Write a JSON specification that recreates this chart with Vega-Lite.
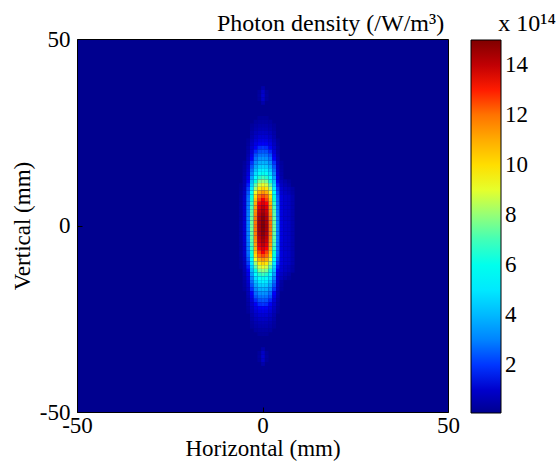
{
  "$schema": "https://vega.github.io/schema/vega-lite/v6.json",
  "width": 371,
  "height": 373,
  "autosize": {"type": "none"},
  "padding": {"left": 77, "top": 39, "right": 111, "bottom": 56},
  "background": "white",
  "config": {
    "view": {"stroke": "black", "strokeWidth": 1, "fill": "#00008F"},
    "font": "Liberation Serif"
  },
  "title": {
    "text": "Photon density (/W/m³)\u00a0\u00a0\u00a0\u00a0\u00a0\u00a0\u00a0\u00a0\u00a0x 10¹⁴",
    "anchor": "start",
    "frame": "group",
    "dx": 140,
    "offset": -27,
    "baseline": "alphabetic",
    "font": "Liberation Serif",
    "fontSize": 24,
    "fontWeight": "normal",
    "color": "black"
  },
  "data": {
    "values": [
      {"x":-1,"y":29,"v":0.29},{"x":0,"y":29,"v":0.3},{"x":1,"y":29,"v":0.29},
      {"x":-2,"y":28,"v":0.34},{"x":-1,"y":28,"v":0.4},{"x":0,"y":28,"v":0.42},{"x":1,"y":28,"v":0.4},{"x":2,"y":28,"v":0.34},
      {"x":-3,"y":27,"v":0.28},{"x":-2,"y":27,"v":0.45},{"x":-1,"y":27,"v":0.54},{"x":0,"y":27,"v":0.56},{"x":1,"y":27,"v":0.54},{"x":2,"y":27,"v":0.45},{"x":3,"y":27,"v":0.28},
      {"x":-3,"y":26,"v":0.35},{"x":-2,"y":26,"v":0.56},{"x":-1,"y":26,"v":0.67},{"x":0,"y":26,"v":0.7},{"x":1,"y":26,"v":0.67},{"x":2,"y":26,"v":0.56},{"x":3,"y":26,"v":0.35},
      {"x":-3,"y":25,"v":0.45},{"x":-2,"y":25,"v":0.72},{"x":-1,"y":25,"v":0.86},{"x":0,"y":25,"v":0.9},{"x":1,"y":25,"v":0.86},{"x":2,"y":25,"v":0.72},{"x":3,"y":25,"v":0.45},
      {"x":-3,"y":24,"v":0.55},{"x":-2,"y":24,"v":0.88},{"x":-1,"y":24,"v":1.06},{"x":0,"y":24,"v":1.1},{"x":1,"y":24,"v":1.06},{"x":2,"y":24,"v":0.88},{"x":3,"y":24,"v":0.55},
      {"x":-4,"y":23,"v":0.27},{"x":-3,"y":23,"v":0.68},{"x":-2,"y":23,"v":1.08},{"x":-1,"y":23,"v":1.3},{"x":0,"y":23,"v":1.35},{"x":1,"y":23,"v":1.3},{"x":2,"y":23,"v":1.08},{"x":3,"y":23,"v":0.68},{"x":4,"y":23,"v":0.27},
      {"x":-4,"y":22,"v":0.33},{"x":-3,"y":22,"v":0.83},{"x":-2,"y":22,"v":1.32},{"x":-1,"y":22,"v":1.58},{"x":0,"y":22,"v":1.65},{"x":1,"y":22,"v":1.58},{"x":2,"y":22,"v":1.32},{"x":3,"y":22,"v":0.83},{"x":4,"y":22,"v":0.33},
      {"x":-4,"y":21,"v":0.4},{"x":-3,"y":21,"v":0.99},{"x":-2,"y":21,"v":1.58},{"x":-1,"y":21,"v":1.9},{"x":0,"y":21,"v":1.98},{"x":1,"y":21,"v":1.9},{"x":2,"y":21,"v":1.58},{"x":3,"y":21,"v":0.99},{"x":4,"y":21,"v":0.4},
      {"x":-4,"y":20,"v":0.47},{"x":-3,"y":20,"v":1.17},{"x":-2,"y":20,"v":1.86},{"x":-1,"y":20,"v":2.24},{"x":0,"y":20,"v":2.33},{"x":1,"y":20,"v":2.24},{"x":2,"y":20,"v":1.86},{"x":3,"y":20,"v":1.17},{"x":4,"y":20,"v":0.47},
      {"x":-4,"y":19,"v":0.56},{"x":-3,"y":19,"v":1.4},{"x":-2,"y":19,"v":2.24},{"x":-1,"y":19,"v":2.69},{"x":0,"y":19,"v":2.8},{"x":1,"y":19,"v":2.69},{"x":2,"y":19,"v":2.24},{"x":3,"y":19,"v":1.4},{"x":4,"y":19,"v":0.56},
      {"x":-4,"y":18,"v":0.66},{"x":-3,"y":18,"v":1.65},{"x":-2,"y":18,"v":2.64},{"x":-1,"y":18,"v":3.17},{"x":0,"y":18,"v":3.3},{"x":1,"y":18,"v":3.17},{"x":2,"y":18,"v":2.64},{"x":3,"y":18,"v":1.65},{"x":4,"y":18,"v":0.66},
      {"x":-5,"y":17,"v":0.29},{"x":-4,"y":17,"v":0.78},{"x":-3,"y":17,"v":1.95},{"x":-2,"y":17,"v":3.12},{"x":-1,"y":17,"v":3.74},{"x":0,"y":17,"v":3.9},{"x":1,"y":17,"v":3.74},{"x":2,"y":17,"v":3.12},{"x":3,"y":17,"v":1.95},{"x":4,"y":17,"v":0.78},{"x":5,"y":17,"v":0.29},
      {"x":-5,"y":16,"v":0.34},{"x":-4,"y":16,"v":0.9},{"x":-3,"y":16,"v":2.25},{"x":-2,"y":16,"v":3.6},{"x":-1,"y":16,"v":4.32},{"x":0,"y":16,"v":4.5},{"x":1,"y":16,"v":4.32},{"x":2,"y":16,"v":3.6},{"x":3,"y":16,"v":2.25},{"x":4,"y":16,"v":0.9},{"x":5,"y":16,"v":0.34},
      {"x":-5,"y":15,"v":0.39},{"x":-4,"y":15,"v":1.05},{"x":-3,"y":15,"v":2.63},{"x":-2,"y":15,"v":4.2},{"x":-1,"y":15,"v":5.04},{"x":0,"y":15,"v":5.25},{"x":1,"y":15,"v":5.04},{"x":2,"y":15,"v":4.2},{"x":3,"y":15,"v":2.63},{"x":4,"y":15,"v":1.05},{"x":5,"y":15,"v":0.39},
      {"x":-5,"y":14,"v":0.45},{"x":-4,"y":14,"v":1.2},{"x":-3,"y":14,"v":3.0},{"x":-2,"y":14,"v":4.8},{"x":-1,"y":14,"v":5.76},{"x":0,"y":14,"v":6.0},{"x":1,"y":14,"v":5.76},{"x":2,"y":14,"v":4.8},{"x":3,"y":14,"v":3.0},{"x":4,"y":14,"v":1.2},{"x":5,"y":14,"v":0.45},
      {"x":-5,"y":13,"v":0.52},{"x":-4,"y":13,"v":1.4},{"x":-3,"y":13,"v":3.49},{"x":-2,"y":13,"v":5.58},{"x":-1,"y":13,"v":6.7},{"x":0,"y":13,"v":6.98},{"x":1,"y":13,"v":6.7},{"x":2,"y":13,"v":5.58},{"x":3,"y":13,"v":3.49},{"x":4,"y":13,"v":1.4},{"x":5,"y":13,"v":0.52},
      {"x":-5,"y":12,"v":0.6},{"x":-4,"y":12,"v":1.59},{"x":-3,"y":12,"v":3.98},{"x":-2,"y":12,"v":6.36},{"x":-1,"y":12,"v":7.63},{"x":0,"y":12,"v":7.95},{"x":1,"y":12,"v":7.63},{"x":2,"y":12,"v":6.36},{"x":3,"y":12,"v":3.98},{"x":4,"y":12,"v":1.59},{"x":5,"y":12,"v":0.75},{"x":6,"y":12,"v":0.5},{"x":7,"y":12,"v":0.3},
      {"x":-6,"y":11,"v":0.25},{"x":-5,"y":11,"v":0.68},{"x":-4,"y":11,"v":1.82},{"x":-3,"y":11,"v":4.54},{"x":-2,"y":11,"v":7.26},{"x":-1,"y":11,"v":8.72},{"x":0,"y":11,"v":9.08},{"x":1,"y":11,"v":8.72},{"x":2,"y":11,"v":7.26},{"x":3,"y":11,"v":4.54},{"x":4,"y":11,"v":1.82},{"x":5,"y":11,"v":0.9},{"x":6,"y":11,"v":0.65},{"x":7,"y":11,"v":0.45},
      {"x":-6,"y":10,"v":0.29},{"x":-5,"y":10,"v":0.77},{"x":-4,"y":10,"v":2.04},{"x":-3,"y":10,"v":5.1},{"x":-2,"y":10,"v":8.16},{"x":-1,"y":10,"v":9.79},{"x":0,"y":10,"v":10.2},{"x":1,"y":10,"v":9.79},{"x":2,"y":10,"v":8.16},{"x":3,"y":10,"v":5.1},{"x":4,"y":10,"v":2.04},{"x":5,"y":10,"v":1.1},{"x":6,"y":10,"v":0.85},{"x":7,"y":10,"v":0.7},{"x":8,"y":10,"v":0.4},
      {"x":-6,"y":9,"v":0.32},{"x":-5,"y":9,"v":0.86},{"x":-4,"y":9,"v":2.28},{"x":-3,"y":9,"v":5.7},{"x":-2,"y":9,"v":9.12},{"x":-1,"y":9,"v":10.94},{"x":0,"y":9,"v":11.4},{"x":1,"y":9,"v":10.94},{"x":2,"y":9,"v":9.12},{"x":3,"y":9,"v":5.7},{"x":4,"y":9,"v":2.28},{"x":5,"y":9,"v":1.1},{"x":6,"y":9,"v":0.85},{"x":7,"y":9,"v":0.7},{"x":8,"y":9,"v":0.4},
      {"x":-6,"y":8,"v":0.35},{"x":-5,"y":8,"v":0.95},{"x":-4,"y":8,"v":2.52},{"x":-3,"y":8,"v":6.3},{"x":-2,"y":8,"v":10.08},{"x":-1,"y":8,"v":12.1},{"x":0,"y":8,"v":12.6},{"x":1,"y":8,"v":12.1},{"x":2,"y":8,"v":10.08},{"x":3,"y":8,"v":6.3},{"x":4,"y":8,"v":2.52},{"x":5,"y":8,"v":1.25},{"x":6,"y":8,"v":1.0},{"x":7,"y":8,"v":0.9},{"x":8,"y":8,"v":0.55},
      {"x":-6,"y":7,"v":0.37},{"x":-5,"y":7,"v":0.99},{"x":-4,"y":7,"v":2.64},{"x":-3,"y":7,"v":6.6},{"x":-2,"y":7,"v":10.56},{"x":-1,"y":7,"v":12.67},{"x":0,"y":7,"v":13.2},{"x":1,"y":7,"v":12.67},{"x":2,"y":7,"v":10.56},{"x":3,"y":7,"v":6.6},{"x":4,"y":7,"v":2.64},{"x":5,"y":7,"v":1.25},{"x":6,"y":7,"v":1.0},{"x":7,"y":7,"v":0.9},{"x":8,"y":7,"v":0.55},
      {"x":-6,"y":6,"v":0.38},{"x":-5,"y":6,"v":1.02},{"x":-4,"y":6,"v":2.73},{"x":-3,"y":6,"v":6.83},{"x":-2,"y":6,"v":10.92},{"x":-1,"y":6,"v":13.1},{"x":0,"y":6,"v":13.65},{"x":1,"y":6,"v":13.1},{"x":2,"y":6,"v":10.92},{"x":3,"y":6,"v":6.83},{"x":4,"y":6,"v":2.73},{"x":5,"y":6,"v":1.25},{"x":6,"y":6,"v":1.0},{"x":7,"y":6,"v":0.9},{"x":8,"y":6,"v":0.55},
      {"x":-6,"y":5,"v":0.39},{"x":-5,"y":5,"v":1.05},{"x":-4,"y":5,"v":2.81},{"x":-3,"y":5,"v":7.03},{"x":-2,"y":5,"v":11.25},{"x":-1,"y":5,"v":13.5},{"x":0,"y":5,"v":14.06},{"x":1,"y":5,"v":13.5},{"x":2,"y":5,"v":11.25},{"x":3,"y":5,"v":7.03},{"x":4,"y":5,"v":2.81},{"x":5,"y":5,"v":1.25},{"x":6,"y":5,"v":1.0},{"x":7,"y":5,"v":0.9},{"x":8,"y":5,"v":0.55},
      {"x":-6,"y":4,"v":0.4},{"x":-5,"y":4,"v":1.08},{"x":-4,"y":4,"v":2.88},{"x":-3,"y":4,"v":7.2},{"x":-2,"y":4,"v":11.52},{"x":-1,"y":4,"v":13.82},{"x":0,"y":4,"v":14.4},{"x":1,"y":4,"v":13.82},{"x":2,"y":4,"v":11.52},{"x":3,"y":4,"v":7.2},{"x":4,"y":4,"v":2.88},{"x":5,"y":4,"v":1.3},{"x":6,"y":4,"v":1.0},{"x":7,"y":4,"v":0.9},{"x":8,"y":4,"v":0.55},
      {"x":-6,"y":3,"v":0.41},{"x":-5,"y":3,"v":1.1},{"x":-4,"y":3,"v":2.93},{"x":-3,"y":3,"v":7.33},{"x":-2,"y":3,"v":11.73},{"x":-1,"y":3,"v":14.07},{"x":0,"y":3,"v":14.66},{"x":1,"y":3,"v":14.07},{"x":2,"y":3,"v":11.73},{"x":3,"y":3,"v":7.33},{"x":4,"y":3,"v":2.93},{"x":5,"y":3,"v":1.3},{"x":6,"y":3,"v":1.0},{"x":7,"y":3,"v":0.9},{"x":8,"y":3,"v":0.55},
      {"x":-6,"y":2,"v":0.42},{"x":-5,"y":2,"v":1.11},{"x":-4,"y":2,"v":2.97},{"x":-3,"y":2,"v":7.43},{"x":-2,"y":2,"v":11.88},{"x":-1,"y":2,"v":14.26},{"x":0,"y":2,"v":14.85},{"x":1,"y":2,"v":14.26},{"x":2,"y":2,"v":11.88},{"x":3,"y":2,"v":7.43},{"x":4,"y":2,"v":2.97},{"x":5,"y":2,"v":1.3},{"x":6,"y":2,"v":1.0},{"x":7,"y":2,"v":0.9},{"x":8,"y":2,"v":0.55},
      {"x":-6,"y":1,"v":0.42},{"x":-5,"y":1,"v":1.12},{"x":-4,"y":1,"v":2.99},{"x":-3,"y":1,"v":7.48},{"x":-2,"y":1,"v":11.97},{"x":-1,"y":1,"v":14.36},{"x":0,"y":1,"v":14.96},{"x":1,"y":1,"v":14.36},{"x":2,"y":1,"v":11.97},{"x":3,"y":1,"v":7.48},{"x":4,"y":1,"v":2.99},{"x":5,"y":1,"v":1.3},{"x":6,"y":1,"v":1.0},{"x":7,"y":1,"v":0.9},{"x":8,"y":1,"v":0.55},
      {"x":-6,"y":0,"v":0.42},{"x":-5,"y":0,"v":1.13},{"x":-4,"y":0,"v":3.0},{"x":-3,"y":0,"v":7.5},{"x":-2,"y":0,"v":12.0},{"x":-1,"y":0,"v":14.4},{"x":0,"y":0,"v":15.0},{"x":1,"y":0,"v":14.4},{"x":2,"y":0,"v":12.0},{"x":3,"y":0,"v":7.5},{"x":4,"y":0,"v":3.0},{"x":5,"y":0,"v":1.3},{"x":6,"y":0,"v":1.0},{"x":7,"y":0,"v":0.9},{"x":8,"y":0,"v":0.55},
      {"x":-6,"y":-1,"v":0.42},{"x":-5,"y":-1,"v":1.12},{"x":-4,"y":-1,"v":2.99},{"x":-3,"y":-1,"v":7.48},{"x":-2,"y":-1,"v":11.97},{"x":-1,"y":-1,"v":14.36},{"x":0,"y":-1,"v":14.96},{"x":1,"y":-1,"v":14.36},{"x":2,"y":-1,"v":11.97},{"x":3,"y":-1,"v":7.48},{"x":4,"y":-1,"v":2.99},{"x":5,"y":-1,"v":1.3},{"x":6,"y":-1,"v":1.0},{"x":7,"y":-1,"v":0.9},{"x":8,"y":-1,"v":0.55},
      {"x":-6,"y":-2,"v":0.42},{"x":-5,"y":-2,"v":1.11},{"x":-4,"y":-2,"v":2.97},{"x":-3,"y":-2,"v":7.43},{"x":-2,"y":-2,"v":11.88},{"x":-1,"y":-2,"v":14.26},{"x":0,"y":-2,"v":14.85},{"x":1,"y":-2,"v":14.26},{"x":2,"y":-2,"v":11.88},{"x":3,"y":-2,"v":7.43},{"x":4,"y":-2,"v":2.97},{"x":5,"y":-2,"v":1.3},{"x":6,"y":-2,"v":1.0},{"x":7,"y":-2,"v":0.9},{"x":8,"y":-2,"v":0.55},
      {"x":-6,"y":-3,"v":0.41},{"x":-5,"y":-3,"v":1.1},{"x":-4,"y":-3,"v":2.93},{"x":-3,"y":-3,"v":7.33},{"x":-2,"y":-3,"v":11.73},{"x":-1,"y":-3,"v":14.07},{"x":0,"y":-3,"v":14.66},{"x":1,"y":-3,"v":14.07},{"x":2,"y":-3,"v":11.73},{"x":3,"y":-3,"v":7.33},{"x":4,"y":-3,"v":2.93},{"x":5,"y":-3,"v":1.3},{"x":6,"y":-3,"v":1.0},{"x":7,"y":-3,"v":0.9},{"x":8,"y":-3,"v":0.55},
      {"x":-6,"y":-4,"v":0.4},{"x":-5,"y":-4,"v":1.08},{"x":-4,"y":-4,"v":2.88},{"x":-3,"y":-4,"v":7.2},{"x":-2,"y":-4,"v":11.52},{"x":-1,"y":-4,"v":13.82},{"x":0,"y":-4,"v":14.4},{"x":1,"y":-4,"v":13.82},{"x":2,"y":-4,"v":11.52},{"x":3,"y":-4,"v":7.2},{"x":4,"y":-4,"v":2.88},{"x":5,"y":-4,"v":1.3},{"x":6,"y":-4,"v":1.0},{"x":7,"y":-4,"v":0.9},{"x":8,"y":-4,"v":0.55},
      {"x":-6,"y":-5,"v":0.39},{"x":-5,"y":-5,"v":1.05},{"x":-4,"y":-5,"v":2.81},{"x":-3,"y":-5,"v":7.03},{"x":-2,"y":-5,"v":11.25},{"x":-1,"y":-5,"v":13.5},{"x":0,"y":-5,"v":14.06},{"x":1,"y":-5,"v":13.5},{"x":2,"y":-5,"v":11.25},{"x":3,"y":-5,"v":7.03},{"x":4,"y":-5,"v":2.81},{"x":5,"y":-5,"v":1.25},{"x":6,"y":-5,"v":1.0},{"x":7,"y":-5,"v":0.9},{"x":8,"y":-5,"v":0.55},
      {"x":-6,"y":-6,"v":0.38},{"x":-5,"y":-6,"v":1.02},{"x":-4,"y":-6,"v":2.73},{"x":-3,"y":-6,"v":6.83},{"x":-2,"y":-6,"v":10.92},{"x":-1,"y":-6,"v":13.1},{"x":0,"y":-6,"v":13.65},{"x":1,"y":-6,"v":13.1},{"x":2,"y":-6,"v":10.92},{"x":3,"y":-6,"v":6.83},{"x":4,"y":-6,"v":2.73},{"x":5,"y":-6,"v":1.25},{"x":6,"y":-6,"v":1.0},{"x":7,"y":-6,"v":0.9},{"x":8,"y":-6,"v":0.55},
      {"x":-6,"y":-7,"v":0.37},{"x":-5,"y":-7,"v":0.99},{"x":-4,"y":-7,"v":2.64},{"x":-3,"y":-7,"v":6.6},{"x":-2,"y":-7,"v":10.56},{"x":-1,"y":-7,"v":12.67},{"x":0,"y":-7,"v":13.2},{"x":1,"y":-7,"v":12.67},{"x":2,"y":-7,"v":10.56},{"x":3,"y":-7,"v":6.6},{"x":4,"y":-7,"v":2.64},{"x":5,"y":-7,"v":1.25},{"x":6,"y":-7,"v":1.0},{"x":7,"y":-7,"v":0.9},{"x":8,"y":-7,"v":0.55},
      {"x":-6,"y":-8,"v":0.35},{"x":-5,"y":-8,"v":0.95},{"x":-4,"y":-8,"v":2.52},{"x":-3,"y":-8,"v":6.3},{"x":-2,"y":-8,"v":10.08},{"x":-1,"y":-8,"v":12.1},{"x":0,"y":-8,"v":12.6},{"x":1,"y":-8,"v":12.1},{"x":2,"y":-8,"v":10.08},{"x":3,"y":-8,"v":6.3},{"x":4,"y":-8,"v":2.52},{"x":5,"y":-8,"v":1.25},{"x":6,"y":-8,"v":1.0},{"x":7,"y":-8,"v":0.9},{"x":8,"y":-8,"v":0.55},
      {"x":-6,"y":-9,"v":0.32},{"x":-5,"y":-9,"v":0.86},{"x":-4,"y":-9,"v":2.28},{"x":-3,"y":-9,"v":5.7},{"x":-2,"y":-9,"v":9.12},{"x":-1,"y":-9,"v":10.94},{"x":0,"y":-9,"v":11.4},{"x":1,"y":-9,"v":10.94},{"x":2,"y":-9,"v":9.12},{"x":3,"y":-9,"v":5.7},{"x":4,"y":-9,"v":2.28},{"x":5,"y":-9,"v":1.25},{"x":6,"y":-9,"v":1.0},{"x":7,"y":-9,"v":0.9},{"x":8,"y":-9,"v":0.55},
      {"x":-6,"y":-10,"v":0.29},{"x":-5,"y":-10,"v":0.77},{"x":-4,"y":-10,"v":2.04},{"x":-3,"y":-10,"v":5.1},{"x":-2,"y":-10,"v":8.16},{"x":-1,"y":-10,"v":9.79},{"x":0,"y":-10,"v":10.2},{"x":1,"y":-10,"v":9.79},{"x":2,"y":-10,"v":8.16},{"x":3,"y":-10,"v":5.1},{"x":4,"y":-10,"v":2.04},{"x":5,"y":-10,"v":1.25},{"x":6,"y":-10,"v":1.0},{"x":7,"y":-10,"v":0.9},{"x":8,"y":-10,"v":0.55},
      {"x":-6,"y":-11,"v":0.25},{"x":-5,"y":-11,"v":0.68},{"x":-4,"y":-11,"v":1.82},{"x":-3,"y":-11,"v":4.54},{"x":-2,"y":-11,"v":7.26},{"x":-1,"y":-11,"v":8.72},{"x":0,"y":-11,"v":9.08},{"x":1,"y":-11,"v":8.72},{"x":2,"y":-11,"v":7.26},{"x":3,"y":-11,"v":4.54},{"x":4,"y":-11,"v":1.82},{"x":5,"y":-11,"v":1.1},{"x":6,"y":-11,"v":0.85},{"x":7,"y":-11,"v":0.7},{"x":8,"y":-11,"v":0.4},
      {"x":-5,"y":-12,"v":0.6},{"x":-4,"y":-12,"v":1.59},{"x":-3,"y":-12,"v":3.98},{"x":-2,"y":-12,"v":6.36},{"x":-1,"y":-12,"v":7.63},{"x":0,"y":-12,"v":7.95},{"x":1,"y":-12,"v":7.63},{"x":2,"y":-12,"v":6.36},{"x":3,"y":-12,"v":3.98},{"x":4,"y":-12,"v":1.59},{"x":5,"y":-12,"v":1.1},{"x":6,"y":-12,"v":0.85},{"x":7,"y":-12,"v":0.7},{"x":8,"y":-12,"v":0.4},
      {"x":-5,"y":-13,"v":0.52},{"x":-4,"y":-13,"v":1.4},{"x":-3,"y":-13,"v":3.49},{"x":-2,"y":-13,"v":5.58},{"x":-1,"y":-13,"v":6.7},{"x":0,"y":-13,"v":6.98},{"x":1,"y":-13,"v":6.7},{"x":2,"y":-13,"v":5.58},{"x":3,"y":-13,"v":3.49},{"x":4,"y":-13,"v":1.4},{"x":5,"y":-13,"v":0.9},{"x":6,"y":-13,"v":0.65},{"x":7,"y":-13,"v":0.45},
      {"x":-5,"y":-14,"v":0.45},{"x":-4,"y":-14,"v":1.2},{"x":-3,"y":-14,"v":3.0},{"x":-2,"y":-14,"v":4.8},{"x":-1,"y":-14,"v":5.76},{"x":0,"y":-14,"v":6.0},{"x":1,"y":-14,"v":5.76},{"x":2,"y":-14,"v":4.8},{"x":3,"y":-14,"v":3.0},{"x":4,"y":-14,"v":1.2},{"x":5,"y":-14,"v":0.75},{"x":6,"y":-14,"v":0.5},{"x":7,"y":-14,"v":0.3},
      {"x":-5,"y":-15,"v":0.39},{"x":-4,"y":-15,"v":1.05},{"x":-3,"y":-15,"v":2.63},{"x":-2,"y":-15,"v":4.2},{"x":-1,"y":-15,"v":5.04},{"x":0,"y":-15,"v":5.25},{"x":1,"y":-15,"v":5.04},{"x":2,"y":-15,"v":4.2},{"x":3,"y":-15,"v":2.63},{"x":4,"y":-15,"v":1.05},{"x":5,"y":-15,"v":0.39},
      {"x":-5,"y":-16,"v":0.34},{"x":-4,"y":-16,"v":0.9},{"x":-3,"y":-16,"v":2.25},{"x":-2,"y":-16,"v":3.6},{"x":-1,"y":-16,"v":4.32},{"x":0,"y":-16,"v":4.5},{"x":1,"y":-16,"v":4.32},{"x":2,"y":-16,"v":3.6},{"x":3,"y":-16,"v":2.25},{"x":4,"y":-16,"v":0.9},{"x":5,"y":-16,"v":0.34},
      {"x":-5,"y":-17,"v":0.29},{"x":-4,"y":-17,"v":0.78},{"x":-3,"y":-17,"v":1.95},{"x":-2,"y":-17,"v":3.12},{"x":-1,"y":-17,"v":3.74},{"x":0,"y":-17,"v":3.9},{"x":1,"y":-17,"v":3.74},{"x":2,"y":-17,"v":3.12},{"x":3,"y":-17,"v":1.95},{"x":4,"y":-17,"v":0.78},{"x":5,"y":-17,"v":0.29},
      {"x":-4,"y":-18,"v":0.66},{"x":-3,"y":-18,"v":1.65},{"x":-2,"y":-18,"v":2.64},{"x":-1,"y":-18,"v":3.17},{"x":0,"y":-18,"v":3.3},{"x":1,"y":-18,"v":3.17},{"x":2,"y":-18,"v":2.64},{"x":3,"y":-18,"v":1.65},{"x":4,"y":-18,"v":0.66},
      {"x":-4,"y":-19,"v":0.56},{"x":-3,"y":-19,"v":1.4},{"x":-2,"y":-19,"v":2.24},{"x":-1,"y":-19,"v":2.69},{"x":0,"y":-19,"v":2.8},{"x":1,"y":-19,"v":2.69},{"x":2,"y":-19,"v":2.24},{"x":3,"y":-19,"v":1.4},{"x":4,"y":-19,"v":0.56},
      {"x":-4,"y":-20,"v":0.47},{"x":-3,"y":-20,"v":1.17},{"x":-2,"y":-20,"v":1.86},{"x":-1,"y":-20,"v":2.24},{"x":0,"y":-20,"v":2.33},{"x":1,"y":-20,"v":2.24},{"x":2,"y":-20,"v":1.86},{"x":3,"y":-20,"v":1.17},{"x":4,"y":-20,"v":0.47},
      {"x":-4,"y":-21,"v":0.4},{"x":-3,"y":-21,"v":0.99},{"x":-2,"y":-21,"v":1.58},{"x":-1,"y":-21,"v":1.9},{"x":0,"y":-21,"v":1.98},{"x":1,"y":-21,"v":1.9},{"x":2,"y":-21,"v":1.58},{"x":3,"y":-21,"v":0.99},{"x":4,"y":-21,"v":0.4},
      {"x":-4,"y":-22,"v":0.33},{"x":-3,"y":-22,"v":0.83},{"x":-2,"y":-22,"v":1.32},{"x":-1,"y":-22,"v":1.58},{"x":0,"y":-22,"v":1.65},{"x":1,"y":-22,"v":1.58},{"x":2,"y":-22,"v":1.32},{"x":3,"y":-22,"v":0.83},{"x":4,"y":-22,"v":0.33},
      {"x":-4,"y":-23,"v":0.27},{"x":-3,"y":-23,"v":0.68},{"x":-2,"y":-23,"v":1.08},{"x":-1,"y":-23,"v":1.3},{"x":0,"y":-23,"v":1.35},{"x":1,"y":-23,"v":1.3},{"x":2,"y":-23,"v":1.08},{"x":3,"y":-23,"v":0.68},{"x":4,"y":-23,"v":0.27},
      {"x":-3,"y":-24,"v":0.55},{"x":-2,"y":-24,"v":0.88},{"x":-1,"y":-24,"v":1.06},{"x":0,"y":-24,"v":1.1},{"x":1,"y":-24,"v":1.06},{"x":2,"y":-24,"v":0.88},{"x":3,"y":-24,"v":0.55},
      {"x":-3,"y":-25,"v":0.45},{"x":-2,"y":-25,"v":0.72},{"x":-1,"y":-25,"v":0.86},{"x":0,"y":-25,"v":0.9},{"x":1,"y":-25,"v":0.86},{"x":2,"y":-25,"v":0.72},{"x":3,"y":-25,"v":0.45},
      {"x":-3,"y":-26,"v":0.35},{"x":-2,"y":-26,"v":0.56},{"x":-1,"y":-26,"v":0.67},{"x":0,"y":-26,"v":0.7},{"x":1,"y":-26,"v":0.67},{"x":2,"y":-26,"v":0.56},{"x":3,"y":-26,"v":0.35},
      {"x":-3,"y":-27,"v":0.28},{"x":-2,"y":-27,"v":0.45},{"x":-1,"y":-27,"v":0.54},{"x":0,"y":-27,"v":0.56},{"x":1,"y":-27,"v":0.54},{"x":2,"y":-27,"v":0.45},{"x":3,"y":-27,"v":0.28},
      {"x":-2,"y":-28,"v":0.34},{"x":-1,"y":-28,"v":0.4},{"x":0,"y":-28,"v":0.42},{"x":1,"y":-28,"v":0.4},{"x":2,"y":-28,"v":0.34},
      {"x":-1,"y":-29,"v":0.29},{"x":0,"y":-29,"v":0.3},{"x":1,"y":-29,"v":0.29},
      {"x":0,"y":37,"v":0.5},
      {"x":-1,"y":36,"v":0.3},{"x":0,"y":36,"v":0.9},{"x":1,"y":36,"v":0.3},
      {"x":-1,"y":35,"v":0.35},{"x":0,"y":35,"v":1.0},{"x":1,"y":35,"v":0.35},
      {"x":-1,"y":34,"v":0.3},{"x":0,"y":34,"v":0.9},{"x":1,"y":34,"v":0.3},
      {"x":0,"y":33,"v":0.5},
      {"x":0,"y":-33,"v":0.5},
      {"x":-1,"y":-34,"v":0.3},{"x":0,"y":-34,"v":0.9},{"x":1,"y":-34,"v":0.3},
      {"x":-1,"y":-35,"v":0.35},{"x":0,"y":-35,"v":1.0},{"x":1,"y":-35,"v":0.35},
      {"x":-1,"y":-36,"v":0.3},{"x":0,"y":-36,"v":0.9},{"x":1,"y":-36,"v":0.3},
      {"x":0,"y":-37,"v":0.5}
    ]
  },
  "mark": {"type": "rect"},
  "encoding": {
    "x": {
      "field": "x",
      "type": "quantitative",
      "bin": {"step": 1, "anchor": 0.5, "extent": [-50.5, 50.5], "nice": false},
      "scale": {"domain": [-50, 50], "nice": false, "zero": false},
      "axis": {
        "title": "Horizontal (mm)",
        "values": [-50, 0, 50],
        "labelExpr": "'' + datum.value",
        "grid": false,
        "domain": false,
        "ticks": true,
        "tickSize": -5,
        "tickColor": "black",
        "labelPadding": 7,
        "labelFlush": false,
        "labelOverlap": false,
        "labelFont": "Liberation Serif",
        "labelFontSize": 23,
        "labelColor": "black",
        "titleFont": "Liberation Serif",
        "titleFontSize": 23,
        "titleFontWeight": "normal",
        "titleColor": "black",
        "titlePadding": 0
      }
    },
    "y": {
      "field": "y",
      "type": "quantitative",
      "bin": {"step": 1, "anchor": 0.5, "extent": [-50.5, 50.5], "nice": false},
      "scale": {"domain": [-50, 50], "nice": false, "zero": false},
      "axis": {
        "title": "Vertical (mm)",
        "values": [-50, 0, 50],
        "labelExpr": "'' + datum.value",
        "grid": false,
        "domain": false,
        "ticks": true,
        "tickSize": -5,
        "tickColor": "black",
        "labelPadding": 12,
        "labelFlush": false,
        "labelOverlap": false,
        "labelFont": "Liberation Serif",
        "labelFontSize": 23,
        "labelColor": "black",
        "titleFont": "Liberation Serif",
        "titleFontSize": 23,
        "titleFontWeight": "normal",
        "titleColor": "black",
        "titlePadding": 5
      }
    },
    "color": {
      "field": "v",
      "type": "quantitative",
      "scale": {
        "domain": [0.08, 1.74, 5.53, 9.32, 13.1, 15.0],
        "range": ["#00008F", "#0000FF", "#00FFFF", "#FFFF00", "#FF0000", "#800000"],
        "clamp": true
      },
      "legend": {
        "type": "gradient",
        "title": null,
        "orient": "none",
        "legendX": 394,
        "legendY": 1,
        "direction": "vertical",
        "gradientLength": 373,
        "gradientThickness": 30,
        "gradientStrokeColor": "black",
        "gradientStrokeWidth": 1,
        "values": [2, 4, 6, 8, 10, 12, 14],
        "labelFont": "Liberation Serif",
        "labelFontSize": 23,
        "labelColor": "black",
        "labelOffset": 4,
        "labelOverlap": false,
        "padding": 0
      }
    }
  }
}
